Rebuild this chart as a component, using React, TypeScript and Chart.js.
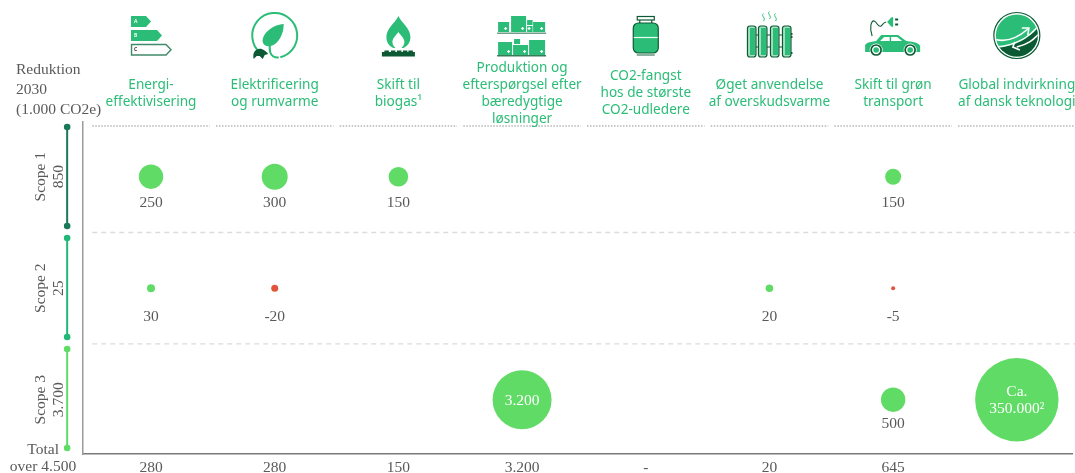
import React, { useEffect, useRef } from "react";
import { Chart, registerables } from "chart.js";

Chart.register(...registerables);

const headers = [
  ["Energi-", "effektivisering"],
  ["Elektrificering", "og rumvarme"],
  ["Skift til", "biogas¹"],
  ["Produktion og", "efterspørgsel efter", "bæredygtige", "løsninger"],
  ["CO2-fangst", "hos de største", "CO2-udledere"],
  ["Øget anvendelse", "af overskudsvarme"],
  ["Skift til grøn", "transport"],
  ["Global indvirkning", "af dansk teknologi"],
];
const totals = ["280", "280", "150", "3.200", "-", "20", "645", ""];
const scope1Values = [250, 300, 150, null, null, null, 150, null];
const scope2Values = [30, -20, null, null, null, 20, -5, null];
const scope3Values = [null, null, null, 3200, null, null, 500, 350000];
const scope1Sizes = [12.2, 13, 9.8, 0, 0, 0, 8, 0];
const scope2Sizes = [4, 3.5, 0, 0, 0, 3.8, 2, 0];
const scope3Sizes = [0, 0, 0, 29.5, 0, 0, 12.2, 41.7];
const scopeNames = ["Scope 1", "Scope 2", "Scope 3"];
const scopeTotals = ["850", "25", "3.700"];

const SERIF = '"Liberation Serif", serif';
const SANS = '"Noto Sans", sans-serif';
const GREY = "#595959";
const GREEN = "#2bbd77";
const DARK = "#0c5a34";
const BUBBLE = "#60dc66";
const RED = "#e2533c";

const fmt = (v: number) => String(v).replace(/\B(?=(\d{3})+$)/g, ".");

function bubbles(values: (number | null)[], sizes: number[], row: number) {
  const data: any[] = [];
  values.forEach((v, i) => {
    if (v !== null) data.push({ x: i, y: row, r: sizes[i], v });
  });
  return {
    type: "bubble",
    data,
    borderWidth: 0,
    clip: false,
    backgroundColor: (c: any) => (c.raw && c.raw.v < 0 ? RED : BUBBLE),
    hoverRadius: 0,
  };
}

function rule(points: [number, number][], color: string, width: number, dash: number[], dot = 0) {
  return {
    type: "line",
    data: points.map(([x, y]) => ({ x, y })),
    borderColor: color,
    backgroundColor: color,
    borderWidth: width,
    borderDash: dash,
    pointRadius: 0,
    capDot: dot,
    clip: false,
    tension: 0,
  };
}

const columns = [0, 1, 2, 3, 4, 5, 6, 7];

function pentagon(c: CanvasRenderingContext2D, x0: number, x1: number, y0: number, y1: number) {
  c.beginPath();
  c.moveTo(x0, y0);
  c.lineTo(x1 - 5, y0);
  c.lineTo(x1, (y0 + y1) / 2);
  c.lineTo(x1 - 5, y1);
  c.lineTo(x0, y1);
  c.closePath();
}

function iconEnergy(c: CanvasRenderingContext2D) {
  c.fillStyle = GREEN;
  pentagon(c, -20, 0, 16, 27);
  c.fill();
  pentagon(c, -20, 11, 30, 41);
  c.fill();
  c.strokeStyle = "#3f8a68";
  c.lineWidth = 1.4;
  pentagon(c, -19.5, 20, 44.5, 55);
  c.stroke();
  c.font = "bold 5px " + SANS;
  c.textAlign = "left";
  c.textBaseline = "middle";
  c.fillStyle = "#e8fff2";
  c.fillText("A", -17, 21.5);
  c.fillText("B", -17, 35.5);
  c.fillStyle = "#333";
  c.fillText("C", -17, 50);
}

function iconElec(c: CanvasRenderingContext2D) {
  c.strokeStyle = GREEN;
  c.lineWidth = 2;
  c.beginPath();
  c.arc(0, 35.5, 22.5, Math.PI * 0.72, Math.PI * 0.42);
  c.stroke();
  c.beginPath();
  c.moveTo(4, 57.5);
  c.bezierCurveTo(-6, 58, -6, 48, -4, 42);
  c.stroke();
  c.fillStyle = GREEN;
  c.beginPath();
  c.moveTo(9, 24);
  c.bezierCurveTo(-3, 25, -13, 34, -12, 42);
  c.bezierCurveTo(-11, 46, -7, 47, -4, 46);
  c.bezierCurveTo(4, 44, 9, 34, 9, 24);
  c.fill();
  c.fillStyle = DARK;
  c.beginPath();
  c.moveTo(-21, 59);
  c.bezierCurveTo(-23, 51, -17, 47.5, -13, 49);
  c.bezierCurveTo(-10, 50, -8, 52, -6.5, 54);
  c.lineTo(-10, 55);
  c.lineTo(-12, 59);
  c.lineTo(-15, 56);
  c.lineTo(-18, 56);
  c.closePath();
  c.fill();
}

function iconFlame(c: CanvasRenderingContext2D) {
  c.fillStyle = GREEN;
  c.beginPath();
  c.moveTo(0, 16);
  c.bezierCurveTo(3, 23, 12, 28, 12, 37);
  c.bezierCurveTo(12, 43, 9, 46, 5, 48);
  c.lineTo(-5, 48);
  c.bezierCurveTo(-9, 46, -12, 43, -12, 37);
  c.bezierCurveTo(-12, 28, -3, 23, 0, 16);
  c.fill();
  c.fillStyle = "#fff";
  c.beginPath();
  c.moveTo(0, 32);
  c.bezierCurveTo(2, 35, 6, 38, 6, 42);
  c.bezierCurveTo(6, 45, 4, 47, 3, 48);
  c.lineTo(-3, 48);
  c.bezierCurveTo(-4, 47, -6, 45, -6, 42);
  c.bezierCurveTo(-6, 38, -2, 35, 0, 32);
  c.fill();
  c.fillStyle = DARK;
  c.fillRect(-16.5, 52, 33, 4.5);
  [-14, -7.5, -1.5, 4.5, 10].forEach((x) => c.fillRect(x, 50.5, 4.5, 2));
}

function iconShelves(c: CanvasRenderingContext2D) {
  const boxes = [
    [-24, 22, 11, 10, 1],
    [-11, 16, 15, 16, 1],
    [5, 20, 5.5, 5, 0],
    [5, 26, 5.5, 6, 1],
    [11, 22, 12, 10, 1],
    [-24, 42, 14, 13, 1],
    [-8, 39, 6, 5, 0],
    [-9, 45, 15, 10, 1],
    [7, 40, 16, 15, 1],
  ];
  boxes.forEach(([x, y, w, h, mark]) => {
    c.fillStyle = GREEN;
    c.fillRect(x, y, w, h);
    if (mark) {
      c.fillStyle = "#fff";
      const mx = x + w - 3.5;
      const my = y + h - 3.5;
      c.fillRect(mx - 0.6, my - 1.5, 1.2, 3);
      c.fillRect(mx - 1.5, my - 0.6, 3, 1.2);
    }
  });
  c.fillStyle = "#6f9f88";
  c.fillRect(-25, 32.5, 49, 1.5);
  c.fillStyle = DARK;
  c.fillRect(-25, 55.2, 49, 1.2);
}

function iconGas(c: CanvasRenderingContext2D) {
  c.strokeStyle = DARK;
  c.lineWidth = 1.2;
  c.strokeRect(-8.5, 16.5, 17, 3.5);
  c.beginPath();
  c.moveTo(-6, 20);
  c.lineTo(-6, 23);
  c.moveTo(6, 20);
  c.lineTo(6, 23);
  c.stroke();
  c.fillStyle = GREEN;
  c.beginPath();
  c.roundRect(-12.5, 23, 25, 30, 5);
  c.fill();
  c.stroke();
  c.strokeStyle = "#e9fff3";
  c.beginPath();
  c.moveTo(-12, 37.5);
  c.lineTo(12, 37.5);
  c.stroke();
  c.fillStyle = "#6f9f88";
  c.fillRect(-9, 54.2, 18, 1.6);
}

function iconRadiator(c: CanvasRenderingContext2D) {
  c.strokeStyle = DARK;
  c.lineWidth = 1.2;
  c.beginPath();
  [35, 47].forEach((y) => {
    c.moveTo(-16, y);
    c.lineTo(14, y);
  });
  c.stroke();
  [-22, -11, 1, 13].forEach((x) => {
    c.fillStyle = "#a8dfc2";
    c.beginPath();
    c.roundRect(x, 26, 8.5, 31, 2.5);
    c.fill();
    c.stroke();
    c.fillStyle = GREEN;
    c.fillRect(x + 2.5, 28, 5, 27);
  });
  c.fillStyle = DARK;
  [33, 36, 52].forEach((y) => c.fillRect(21.5, y, 1.5, 2));
  c.strokeStyle = GREEN;
  c.lineWidth = 1;
  [[-6, 17], [0, 15], [6, 17]].forEach(([x, y]) => {
    c.beginPath();
    c.moveTo(x, y - 3.5);
    c.bezierCurveTo(x - 3, y - 1, x + 3, y + 1, x, y + 4);
    c.stroke();
  });
}

function iconCar(c: CanvasRenderingContext2D) {
  c.fillStyle = GREEN;
  c.beginPath();
  c.moveTo(-28, 52);
  c.lineTo(-28, 45);
  c.quadraticCurveTo(-27, 42, -17, 41);
  c.lineTo(-12, 35);
  c.lineTo(5, 35);
  c.lineTo(13, 41);
  c.quadraticCurveTo(26, 42, 27, 46);
  c.lineTo(27, 52);
  c.closePath();
  c.fill();
  c.fillStyle = "#fff";
  c.beginPath();
  c.moveTo(-13, 41);
  c.lineTo(-9, 37);
  c.lineTo(-3.5, 37);
  c.lineTo(-3.5, 41);
  c.closePath();
  c.moveTo(-2, 37);
  c.lineTo(4, 37);
  c.lineTo(9, 41);
  c.lineTo(-2, 41);
  c.closePath();
  c.fill();
  [-17, 17].forEach((x) => {
    c.fillStyle = "#fff";
    c.beginPath();
    c.arc(x, 50, 6.5, 0, Math.PI * 2);
    c.fill();
    c.strokeStyle = DARK;
    c.lineWidth = 1.7;
    c.beginPath();
    c.arc(x, 50, 5, 0, Math.PI * 2);
    c.stroke();
    c.fillStyle = GREEN;
    c.beginPath();
    c.arc(x, 50, 2.8, 0, Math.PI * 2);
    c.fill();
  });
  c.strokeStyle = DARK;
  c.lineWidth = 1.1;
  c.beginPath();
  c.moveTo(-21, 36);
  c.bezierCurveTo(-24, 28, -22, 20, -19, 21);
  c.bezierCurveTo(-16, 22, -15, 28, -12, 26);
  c.bezierCurveTo(-10, 24, -9, 22, -7, 22);
  c.stroke();
  c.fillStyle = GREEN;
  c.beginPath();
  c.moveTo(-6, 22);
  c.lineTo(-2, 17.5);
  c.lineTo(0, 17);
  c.lineTo(0, 27);
  c.lineTo(-2, 26.5);
  c.closePath();
  c.fill();
  c.fillStyle = DARK;
  c.fillRect(2, 18.5, 3, 2);
  c.fillRect(2, 23.5, 3, 2);
}

function iconGlobe(c: CanvasRenderingContext2D) {
  const cy = 35.5;
  c.strokeStyle = DARK;
  c.lineWidth = 1.2;
  c.beginPath();
  c.arc(0, cy, 23, 0, Math.PI * 2);
  c.stroke();
  c.save();
  c.beginPath();
  c.arc(0, cy, 21, 0, Math.PI * 2);
  c.clip();
  c.fillStyle = GREEN;
  c.fillRect(-23, cy - 23, 46, 46);
  c.fillStyle = DARK;
  c.beginPath();
  c.moveTo(23, 26);
  c.bezierCurveTo(12, 38, 0, 46, -20, 48);
  c.lineTo(-20, 60);
  c.lineTo(23, 60);
  c.closePath();
  c.fill();
  c.strokeStyle = "#fff";
  c.lineWidth = 1.6;
  c.beginPath();
  c.moveTo(-23, 39);
  c.bezierCurveTo(-10, 43, 2, 37, 11, 29);
  c.stroke();
  c.beginPath();
  c.moveTo(23, 24);
  c.bezierCurveTo(14, 36, 2, 45, -20, 47);
  c.stroke();
  c.beginPath();
  c.moveTo(22, 34);
  c.bezierCurveTo(16, 40, 12, 44, 0, 47);
  c.stroke();
  c.beginPath();
  c.moveTo(5, 28);
  c.lineTo(12, 28);
  c.lineTo(11, 35);
  c.moveTo(-2, 42);
  c.lineTo(-4, 47);
  c.lineTo(3, 50);
  c.stroke();
  c.restore();
}

const icons = [iconEnergy, iconElec, iconFlame, iconShelves, iconGas, iconRadiator, iconCar, iconGlobe];

const chrome = {
  id: "chrome",
  afterDatasetsDraw(chart: any) {
    const c: CanvasRenderingContext2D = chart.ctx;
    const xs = chart.scales.x;
    const ys = chart.scales.y;
    c.save();

    chart.data.datasets.forEach((d: any, di: number) => {
      if (!d.capDot) return;
      c.fillStyle = d.borderColor;
      chart.getDatasetMeta(di).data.forEach((pt: any) => {
        c.beginPath();
        c.arc(pt.x, pt.y, d.capDot, 0, Math.PI * 2);
        c.fill();
      });
    });

    columns.forEach((i) => {
      c.save();
      c.translate(xs.getPixelForValue(i), 0);
      icons[i](c);
      c.restore();
    });

    c.textAlign = "center";
    c.textBaseline = "middle";
    c.font = "13.6px " + SANS;
    c.fillStyle = GREEN;
    headers.forEach((lines, i) => {
      const x = xs.getPixelForValue(i);
      lines.forEach((line, k) => {
        c.fillText(line, x, 93.5 + (k - (lines.length - 1) / 2) * 17);
      });
    });

    c.font = "15.5px " + SERIF;
    c.fillStyle = GREY;
    const rows: [(number | null)[], number, number][] = [
      [scope1Values, 2, 26.5],
      [scope2Values, 1, 28.5],
      [scope3Values, 0, 24],
    ];
    rows.forEach(([vals, row, gap]) => {
      vals.forEach((v, i) => {
        if (v === null || v >= 1000) return;
        c.fillText(fmt(v), xs.getPixelForValue(i), ys.getPixelForValue(row) + gap);
      });
    });
    c.fillStyle = "#fff";
    scope3Values.forEach((v, i) => {
      if (v === null || v < 1000) return;
      const x = xs.getPixelForValue(i);
      const y = ys.getPixelForValue(0);
      if (v >= 100000) {
        c.fillText("Ca.", x, y - 8);
        c.fillText(fmt(v) + "²", x, y + 9);
      } else {
        c.fillText(fmt(v), x, y + 1);
      }
    });

    c.fillStyle = GREY;
    c.textAlign = "left";
    ["Reduktion", "2030", "(1.000 CO2e)"].forEach((t, k) => c.fillText(t, 16, 70 + k * 20));
    c.textAlign = "right";
    c.fillText("Total", 59, 450);
    c.textAlign = "center";
    c.fillText("over 4.500", 43, 467);

    scopeNames.forEach((name, k) => {
      const y = ys.getPixelForValue(2 - k);
      c.save();
      c.translate(41, y);
      c.rotate(-Math.PI / 2);
      c.fillText(name, 0, 0);
      c.restore();
      c.save();
      c.translate(59, y);
      c.rotate(-Math.PI / 2);
      c.fillText(scopeTotals[k], 0, 0);
      c.restore();
    });
    c.restore();
  },
};

export default function App() {
  const ref = useRef<HTMLCanvasElement>(null);
  useEffect(() => {
    const dotted = columns.map((i) =>
      rule([[i - 0.475, 2.455], [i + 0.475, 2.455]], "#b5b5b5", 1.6, [1.5, 1.5])
    );
    const chart = new Chart(ref.current as HTMLCanvasElement, {
      type: "bubble",
      data: {
        datasets: [
          ...dotted,
          rule([[-0.475, 1.5], [7.48, 1.5]], "#dcdcdc", 1.3, [5, 4]),
          rule([[-0.475, 0.5], [7.48, 0.5]], "#dcdcdc", 1.3, [5, 4]),
          rule([[-0.678, 2.446], [-0.678, 1.558]], "#1a7a57", 2, [], 3.3),
          rule([[-0.678, 1.45], [-0.678, 0.563]], "#22b877", 2, [], 3.3),
          rule([[-0.678, 0.455], [-0.678, -0.433]], "#5fdc66", 2, [], 3.3),
          bubbles(scope1Values, scope1Sizes, 2),
          bubbles(scope2Values, scope2Sizes, 1),
          bubbles(scope3Values, scope3Sizes, 0),
        ] as any,
      },
      plugins: [chrome],
      options: {
        animation: false,
        responsive: false,
        events: [],
        layout: { autoPadding: false, padding: { left: 82.5, right: 3, top: 122, bottom: 0 } },
        plugins: { legend: { display: false }, tooltip: { enabled: false } },
        scales: {
          x: {
            type: "linear",
            min: -0.554,
            max: 7.446,
            afterFit: (s: any) => {
              s.height = 19;
            },
            afterBuildTicks: (s: any) => {
              s.ticks = columns.map((value) => ({ value }));
            },
            border: { display: true, color: "#7a7a7a", width: 1.5 },
            grid: { display: false, drawTicks: false },
            ticks: {
              autoSkip: false,
              maxRotation: 0,
              padding: 5,
              color: GREY,
              font: { family: SERIF, size: 15.5 },
              callback: (v: any) => totals[v as number] ?? "",
            },
          },
          y: {
            type: "linear",
            min: -0.487,
            max: 2.491,
            afterFit: (s: any) => {
              s.width = 0;
            },
            border: { display: true, color: "#9a9a9a", width: 1.5 },
            grid: { display: false, drawTicks: false },
            ticks: { display: false },
          },
        },
      } as any,
    });
    return () => chart.destroy();
  }, []);
  return (
    <div style={{ position: "absolute", left: 0, top: 0, width: 1075, height: 473, background: "#fff" }}>
      <canvas ref={ref} width={1075} height={473} style={{ display: "block" }} />
    </div>
  );
}
